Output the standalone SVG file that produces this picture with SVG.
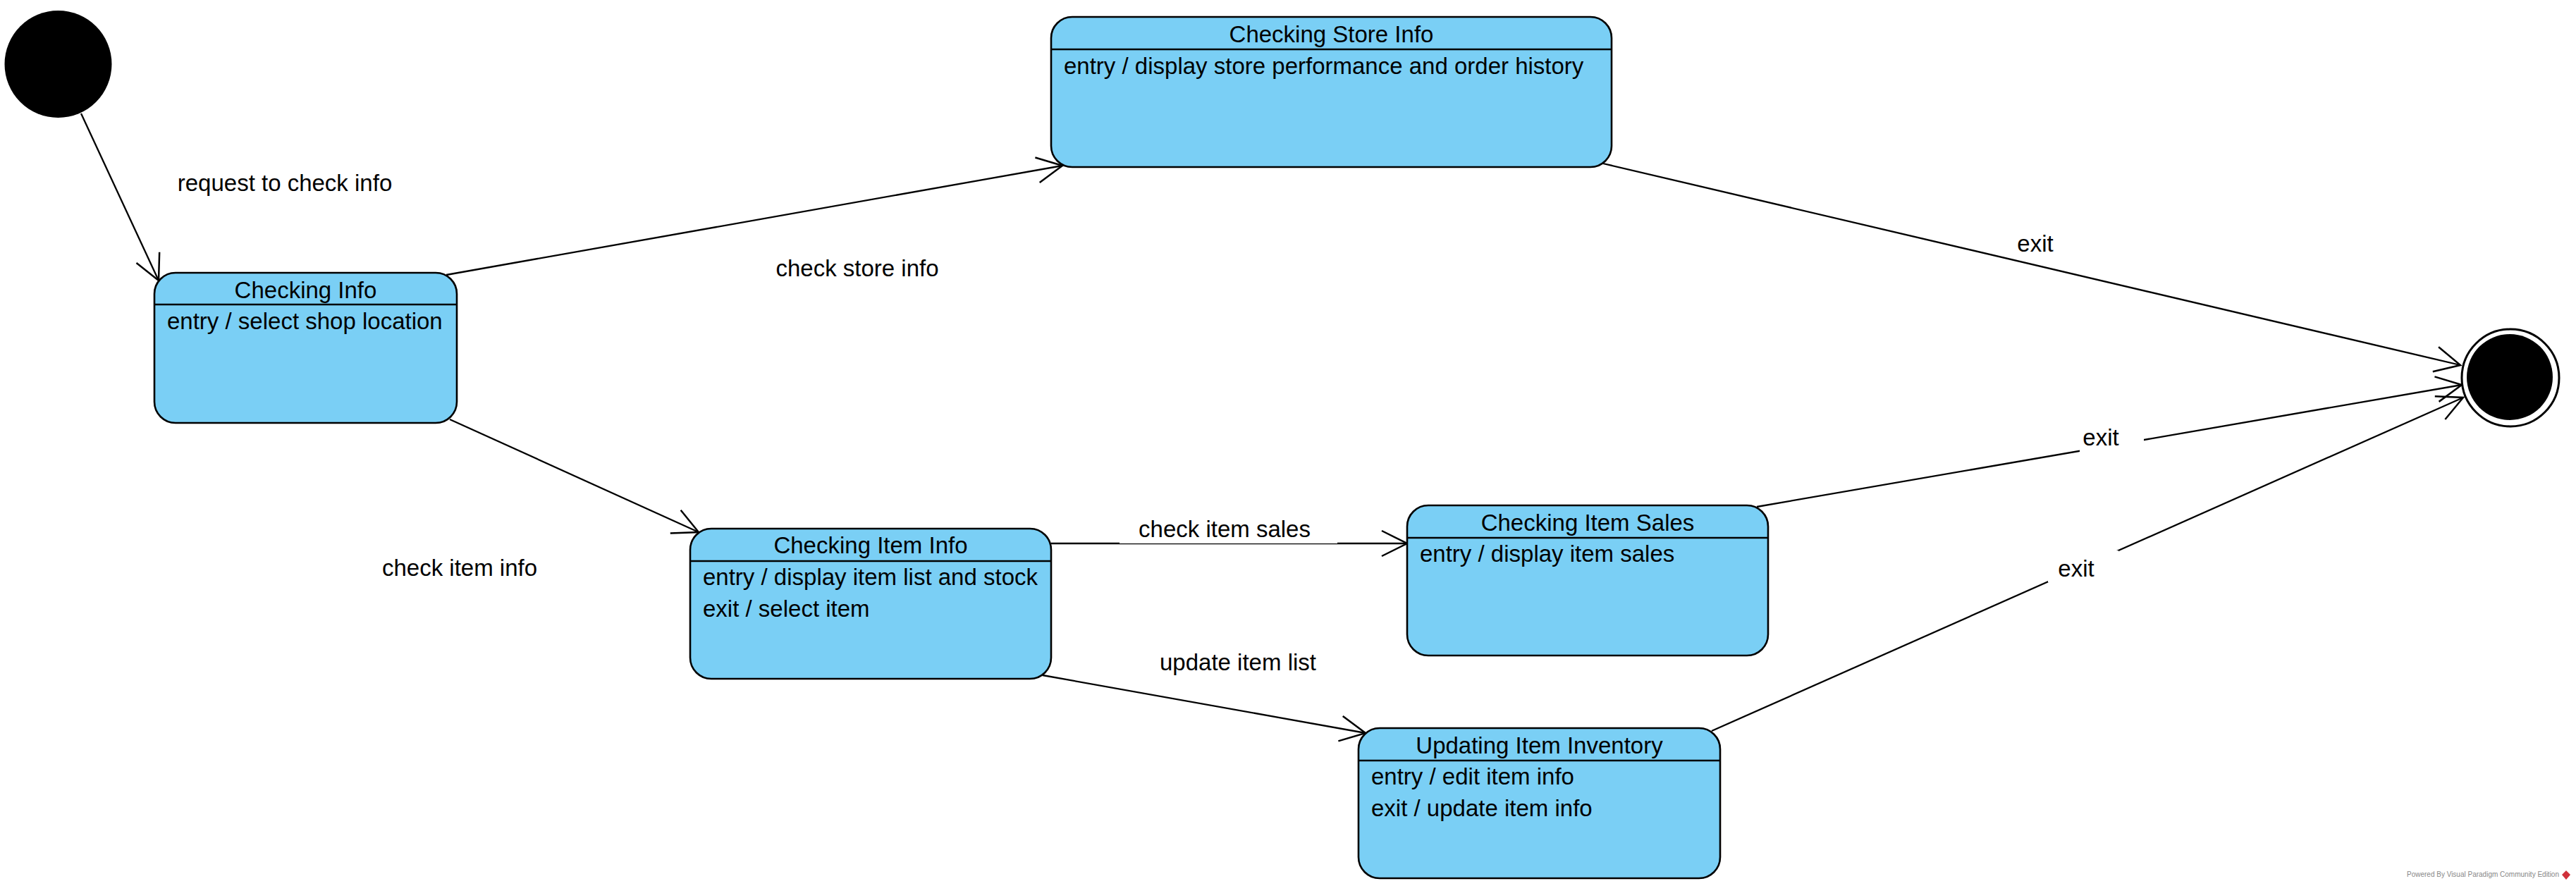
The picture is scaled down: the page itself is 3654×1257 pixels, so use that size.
<svg xmlns="http://www.w3.org/2000/svg" width="3654" height="1257" viewBox="0 0 3654 1257">
<style>
  .st { fill: #7ACFF5; stroke: #000; stroke-width: 2.6; }
  .div { stroke: #000; stroke-width: 2.4; }
  .t { font-family: "Liberation Sans", Arial, sans-serif; font-size: 33px; fill: #000; }
  .mid { text-anchor: middle; }
  .conn { fill: none; stroke: #000; stroke-width: 2.3; marker-end: url(#arr); }
  .bg { fill: #fff; stroke: none; }
  .wm { font-family: "Liberation Sans", Arial, sans-serif; font-size: 10px; fill: #888; text-anchor: end; }
</style>
<defs>
  <marker id="arr" markerUnits="userSpaceOnUse" markerWidth="60" markerHeight="60" refX="0" refY="0" orient="auto" overflow="visible">
    <path d="M -36 -18 L 0 0 L -36 18" fill="none" stroke="#000" stroke-width="2.5"/>
  </marker>
</defs>
<rect width="3654" height="1257" fill="#fff"/>

<g id="connectors">
  <path class="conn" d="M 115 161 L 225 398"/>
  <path class="conn" d="M 633 390 L 1507 235"/>
  <path class="conn" d="M 638 595 L 991 755"/>
  <path class="conn" d="M 1491 771 L 1996 771"/>
  <path class="conn" d="M 1479 958 L 1937 1040"/>
  <path class="conn" d="M 2274 232 L 3490 518"/>
  <path class="conn" d="M 2492 719 L 3492 546"/>
  <path class="conn" d="M 2428 1037 L 3494 564"/>
  <g id="labels">
    <text class="t mid" x="404" y="271">request to check info</text>
    <text class="t mid" x="1216" y="392">check store info</text>
    <text class="t mid" x="652" y="817">check item info</text>
    <rect class="bg" x="1588" y="727" width="309" height="44"/>
    <text class="t mid" x="1737" y="762">check item sales</text>
    <text class="t mid" x="1756" y="951">update item list</text>
    <text class="t mid" x="2887" y="357">exit</text>
    <rect class="bg" x="2950" y="598" width="91" height="45"/>
    <text class="t mid" x="2980" y="632">exit</text>
    <rect class="bg" x="2905" y="781" width="100" height="45"/>
    <text class="t mid" x="2945" y="818">exit</text>
  </g>
</g>

<g id="initial">
  <circle cx="82.5" cy="91" r="76" fill="#000"/>
</g>

<g id="final">
  <circle cx="3561" cy="536" r="69" fill="#fff" stroke="#000" stroke-width="3"/>
  <circle cx="3560" cy="535" r="61" fill="#000"/>
</g>

<g id="checking-store-info">
  <rect class="st" x="1491" y="24" width="795" height="213" rx="30" ry="30"/>
  <line class="div" x1="1491" y1="70" x2="2286" y2="70"/>
  <text class="t mid" x="1888.5" y="60">Checking Store Info</text>
  <text class="t" x="1509" y="105">entry / display store performance and order history</text>
</g>

<g id="checking-info">
  <rect class="st" x="219" y="387" width="429" height="213" rx="30" ry="30"/>
  <line class="div" x1="219" y1="432" x2="648" y2="432"/>
  <text class="t mid" x="433.5" y="423">Checking Info</text>
  <text class="t" x="237" y="467">entry / select shop location</text>
</g>

<g id="checking-item-info">
  <rect class="st" x="979" y="750" width="512" height="213" rx="30" ry="30"/>
  <line class="div" x1="979" y1="796" x2="1491" y2="796"/>
  <text class="t mid" x="1235" y="785">Checking Item Info</text>
  <text class="t" x="997" y="830">entry / display item list and stock</text>
  <text class="t" x="997" y="875">exit / select item</text>
</g>

<g id="checking-item-sales">
  <rect class="st" x="1996" y="717" width="512" height="213" rx="30" ry="30"/>
  <line class="div" x1="1996" y1="763" x2="2508" y2="763"/>
  <text class="t mid" x="2252" y="753">Checking Item Sales</text>
  <text class="t" x="2014" y="797">entry / display item sales</text>
</g>

<g id="updating-item-inventory">
  <rect class="st" x="1927" y="1033" width="513" height="213" rx="30" ry="30"/>
  <line class="div" x1="1927" y1="1079" x2="2440" y2="1079"/>
  <text class="t mid" x="2183.5" y="1069">Updating Item Inventory</text>
  <text class="t" x="1945" y="1113">entry / edit item info</text>
  <text class="t" x="1945" y="1158">exit / update item info</text>
</g>

<g id="watermark">
  <text class="wm" x="3630" y="1244">Powered By Visual Paradigm Community Edition</text>
  <polygon points="3640,1235 3646,1241 3640,1248 3634,1241" fill="#d0303a"/>
</g>
</svg>
